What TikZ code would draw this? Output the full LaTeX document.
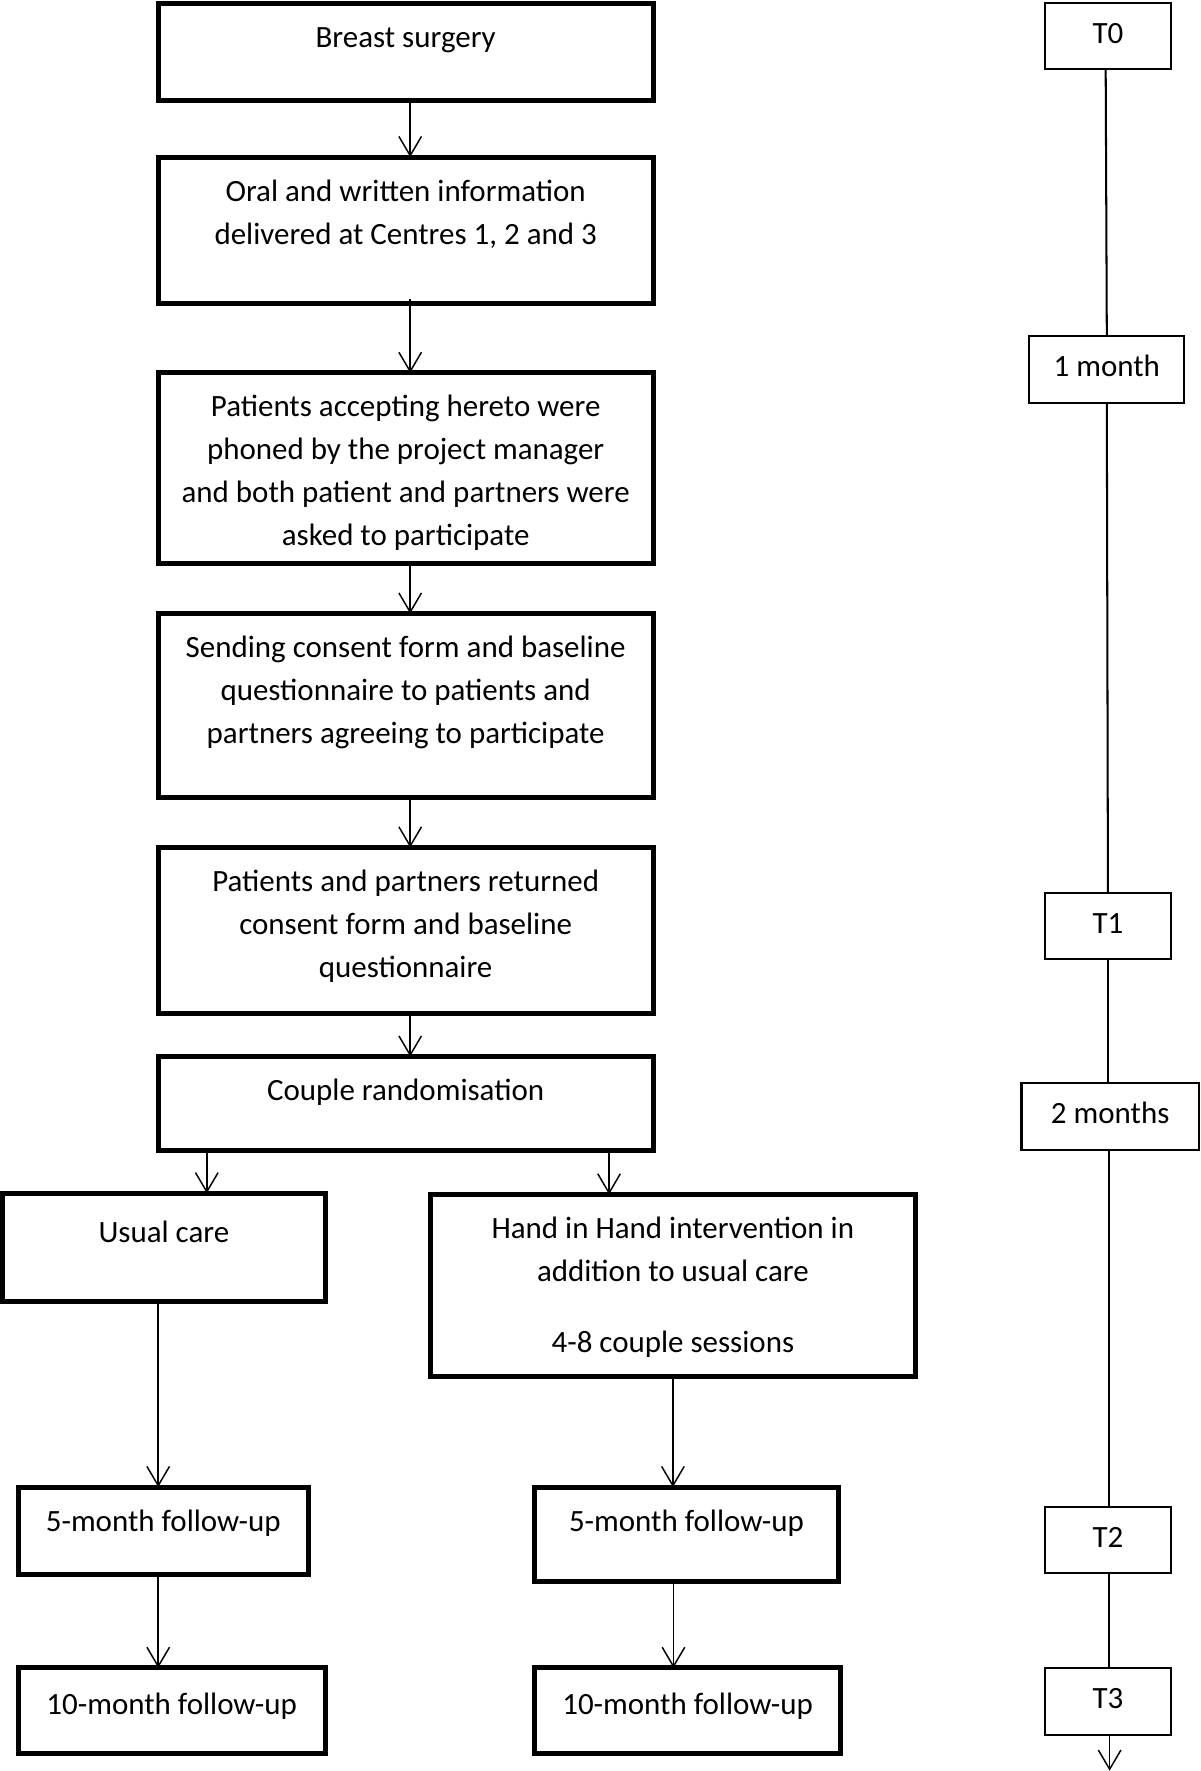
\documentclass[tikz,border=0pt]{standalone}
\usepackage{fontspec}
\setmainfont{Carlito}
\usetikzlibrary{arrows.meta}
\newcommand{\bxt}[3]{\parbox[c][#2][t]{#1}{\centering\rule{0pt}{19.5pt}#3}}
\begin{document}
\begin{tikzpicture}[x=0.5pt,y=-0.5pt,
  mbox/.style={draw, line width=2.2pt, inner sep=0pt, outer sep=0pt, anchor=north west, font=\fontsize{13.7}{19}\selectfont},
  tbox/.style={draw, line width=0.9pt, inner sep=0pt, outer sep=0pt, text height=9pt, text depth=2.6pt, font=\fontsize{13.7}{16}\selectfont},
  arr/.style={line width=0.65pt, -{Straight Barb[length=8.5pt,width=10pt]}},
  tl/.style={line width=0.9pt}]
\useasboundingbox (0,0) rectangle (1062,1567.3);
% main column
\node[mbox] (b1) at (140,3) {\bxt{219pt}{43pt}{Breast surgery}};
\node[mbox] (b2) at (140,139) {\bxt{219pt}{65pt}{Oral and written information\\delivered at Centres 1, 2 and 3}};
\node[mbox] (b3) at (140,330) {\bxt{219pt}{84.5pt}{Patients accepting hereto were\\phoned by the project manager\\and both patient and partners were\\asked to participate}};
\node[mbox] (b4) at (140,543) {\bxt{219pt}{81.5pt}{Sending consent form and baseline\\questionnaire to patients and\\partners agreeing to participate}};
\node[mbox] (b5) at (140,750) {\bxt{219pt}{73.5pt}{Patients and partners returned\\consent form and baseline\\questionnaire}};
\node[mbox] (b6) at (140,935) {\bxt{219pt}{41.5pt}{Couple randomisation}};
\node[mbox] (b7) at (2,1056) {\bxt{143pt}{48pt}{\rule{0pt}{22pt}Usual care}};
\node[mbox] (b8) at (381,1057) {\bxt{214.5pt}{80.5pt}{Hand in Hand intervention in\\addition to usual care\\[12.5pt]4-8 couple sessions}};
\node[mbox] (b9) at (16,1316) {\bxt{128.5pt}{38.5pt}{5-month follow-up}};
\node[mbox] (b10) at (16,1476) {\bxt{136pt}{38pt}{\rule{0pt}{20.5pt}10-month follow-up}};
\node[mbox] (b11) at (473,1316) {\bxt{134.5pt}{42pt}{5-month follow-up}};
\node[mbox] (b12) at (473,1476) {\bxt{135.5pt}{38pt}{\rule{0pt}{20.5pt}10-month follow-up}};
% arrows
\draw[arr] ([xshift=2pt]b1.south) -- ([xshift=2pt]b2.north);
\draw[arr] ([xshift=2pt,yshift=2pt]b2.south) -- ([xshift=2pt]b3.north);
\draw[arr] ([xshift=2pt]b3.south) -- ([xshift=2pt]b4.north);
\draw[arr] ([xshift=2pt]b4.south) -- ([xshift=2pt]b5.north);
\draw[arr] ([xshift=2pt]b5.south) -- ([xshift=2pt]b6.north);
\draw[arr] ([xshift=19pt]b7.north |- b6.south) -- ([xshift=19pt]b7.north);
\draw[arr] ([xshift=-28.25pt]b8.north |- b6.south) -- ([xshift=-28.25pt]b8.north);
\draw[arr] ([xshift=-2.5pt]b7.south) -- ([xshift=-2.5pt]b7.south |- b9.north);
\draw[arr] ([xshift=-2.25pt]b9.south) -- ([xshift=-2.25pt]b9.south |- b10.north);
\draw[arr] (b8.south) -- (b8.south |- b11.north);
\draw[arr] ([xshift=-5.75pt]b11.south) -- ([xshift=-5.75pt]b11.south |- b12.north);
% timeline
\node[tbox, minimum width=55.5pt, minimum height=29pt] (t0) at (980.5,32) {T0};
\node[tbox, minimum width=68.5pt, minimum height=30pt] (m1) at (979.5,327) {1 month};
\node[tbox, minimum width=55.5pt, minimum height=29.5pt] (t1) at (980.5,819.5) {T1};
\node[tbox, minimum width=78.5pt, minimum height=30pt] (m2) at (982.5,988) {2 months};
\node[tbox, minimum width=55.5pt, minimum height=29pt] (t2) at (980.5,1363) {T2};
\node[tbox, minimum width=55.5pt, minimum height=29.5pt] (t3) at (980.5,1505.5) {T3};
\coordinate (tend) at (982,1567);
\draw[tl] ([xshift=-1pt]t0.south) -- (m1.north);
\draw[tl] (m1.south) -- (t1.north);
\draw[tl] (t1.south) -- (t1.south |- m2.north);
\draw[tl] ([xshift=-0.5pt]m2.south) -- ([xshift=0.5pt]t2.north);
\draw[tl] ([xshift=0.5pt]t2.south) -- ([xshift=0.5pt]t3.north);
\draw[arr] ([xshift=0.5pt]t3.south) -- (t3.south -| tend) -- (tend);
\end{tikzpicture}
\end{document}
